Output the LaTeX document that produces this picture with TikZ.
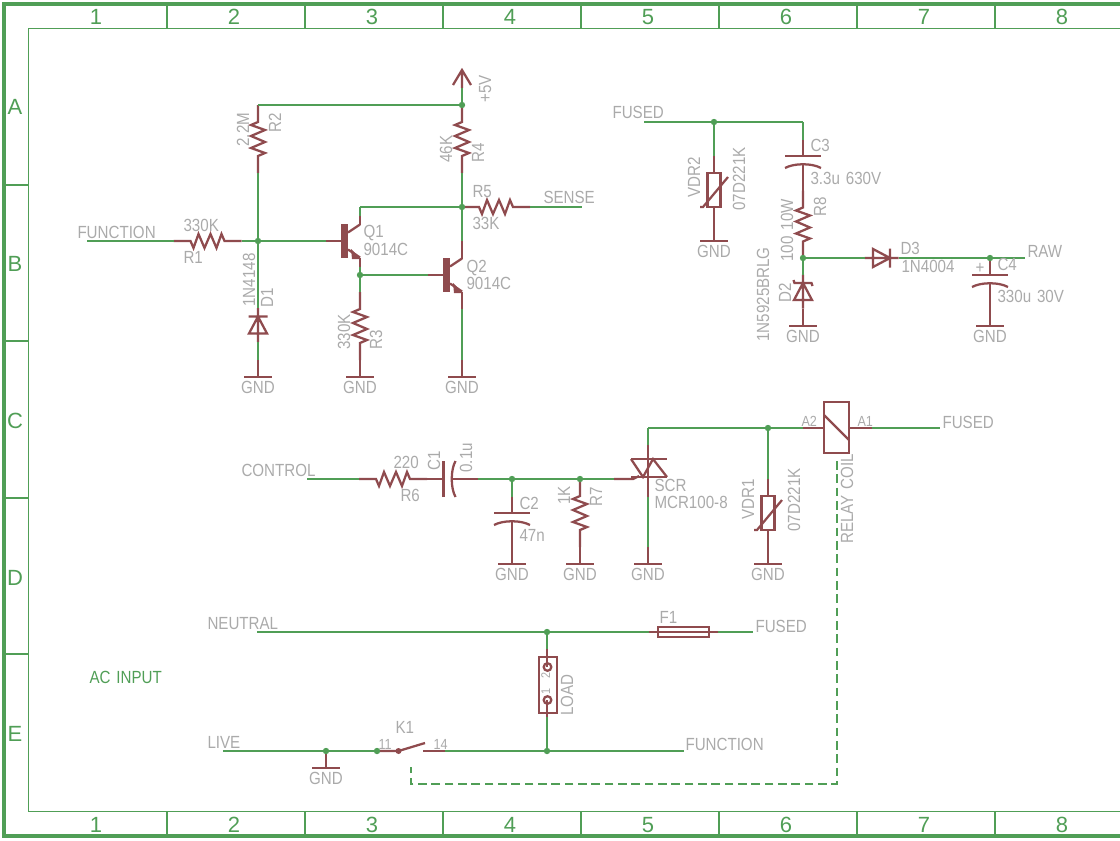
\documentclass[tikz,border=0pt]{standalone}
\usepackage{fontspec}
\setmainfont[FakeStretch=0.86,WordSpace=1.4]{Liberation Sans}
\newfontfamily\sheetfont{Liberation Sans}
\definecolor{netgreen}{RGB}{80,158,86}
\definecolor{symbrown}{RGB}{143,75,78}
\definecolor{namegray}{RGB}{170,170,170}
\tikzset{every picture/.style={line width=0.75pt}}
\tikzset{
  wire/.style={draw=netgreen,line width=1.7pt},
  stub/.style={draw=symbrown,line width=1.7pt},
  frameline/.style={draw=netgreen,line width=1.2pt},
  frameedge/.style={draw=netgreen,line width=3pt},
  dashlink/.style={draw=netgreen,line width=1.7pt,dash pattern={on 6.5pt off 3.5pt}},
  junction/.style={fill=netgreen,draw=none},
  lbl/.style={text=namegray,inner sep=0pt,anchor=base west,font=\fontsize{13.2pt}{14pt}\selectfont},
  lblup/.style={lbl,rotate=90},
  pinlbl/.style={lbl,font=\fontsize{11pt}{12pt}\selectfont},
  framelbl/.style={text=netgreen,inner sep=0pt,anchor=base,font=\sheetfont\fontsize{16.5pt}{18pt}\selectfont},
  % pics are not flipped by the picture's yscale: their y runs upward
  pics/gnd/.style={code={
    \draw[stub] (0,17) -- (0,0) (-14,0) -- (14,0);
    \coordinate (-a) at (0,17);
    \node[lbl,anchor=base] (-t) at (0,-16) {GND};
  }},
  pics/resistor/.style={code={
    \draw[stub] (-34,0) -- (-17,0) -- (-14,-7) -- (-9,7) -- (-3,-7) -- (3,7) -- (9,-7) -- (14,7) -- (17,0) -- (34,0);
    \coordinate (-a) at (-34,0); \coordinate (-b) at (34,0);
  }},
  pics/capacitor/.style={code={
    \draw[stub] (0,20) -- (0,3.5) (-18,3.5) -- (18,3.5);
    \draw[stub] (-18,-8.5) .. controls (-9,-3.5) and (9,-3.5) .. (18,-8.5);
    \draw[stub] (0,-4) -- (0,-20);
    \coordinate (-a) at (0,20); \coordinate (-b) at (0,-20);
  }},
  pics/diode/.style={code={
    \draw[stub] (-17,0) -- (17,0) (-8.5,-9) -- (8.5,0) -- (-8.5,9) -- cycle (8.5,-9.5) -- (8.5,9.5);
    \coordinate (-a) at (-17,0); \coordinate (-b) at (17,0);
  }},
  pics/zener/.style={code={
    \draw[stub] (-17,0) -- (17,0) (-8.5,-9) -- (8.5,0) -- (-8.5,9) -- cycle (11.5,9.5) -- (8.5,8.5) -- (8.5,-8.5) -- (5.5,-9.5);
    \coordinate (-a) at (-17,0); \coordinate (-b) at (17,0);
  }},
  pics/varistor/.style={code={
    \draw[stub] (0,17) -- (0,0) (0,-34) -- (0,-51);
    \draw[stub] (-6.5,0) rectangle (6.5,-34);
    \draw[stub] (-14,-34) -- (-11,-34) -- (14,-4);
    \coordinate (-a) at (0,17); \coordinate (-b) at (0,-51);
  }},
  pics/npn/.style={code={
    \fill[symbrown] (-3.5,-17) rectangle (3.5,17);
    \draw[stub] (3.5,8.5) -- (15.5,16.5) (3.5,-8.5) -- (15.5,-16.5);
    \fill[symbrown] (6.5,-8) -- (15.5,-16.5) -- (15.5,-18) -- (7.5,-18) -- cycle;
    \coordinate (-c) at (15.5,16.5); \coordinate (-e) at (15.5,-16.5);
    \coordinate (-g) at (-3.5,0);
  }}
}
\begin{document}
\begin{tikzpicture}[x=0.75pt,y=0.75pt,yscale=-1,xscale=1]
\useasboundingbox (0,0) rectangle (1120,840);

% Sheet frame
\draw[frameedge] (1120,4) -- (4,4) -- (4,836) -- (1120,836);
\draw[frameline] (1120,28.5) -- (28.5,28.5) -- (28.5,811.5) -- (1120,811.5);
\foreach \x in {167,305,443,581,719,857,995} {
  \draw[frameline] (\x,4) -- (\x,28.5);
  \draw[frameline] (\x,811.5) -- (\x,836);
}
\foreach \y in {185,341,498,654} \draw[frameline] (4,\y) -- (28.5,\y);
\foreach \n/\x in {1/96,2/234,3/372,4/510,5/648,6/786,7/924,8/1062} {
  \node[framelbl] (top\n) at (\x,24) {\n};
  \node[framelbl] (bot\n) at (\x,832) {\n};
}
\foreach \n/\y in {A/114,B/271,C/428,D/585,E/741} \node[framelbl] (row\n) at (15,\y) {\n};

% Junctions
\coordinate (jvcc) at (462,105);
\coordinate (jbase) at (258,241);
\coordinate (jcoll) at (462,207);
\coordinate (jemit) at (360,275);
\coordinate (jfused) at (714,122);
\coordinate (jdrop) at (803,258);
\coordinate (jraw) at (990,258);
\coordinate (jc2) at (512,479);
\coordinate (jr7) at (580,479);
\coordinate (jcoil) at (768,428);
\coordinate (jneutral) at (547,632);
\coordinate (jload) at (547,751);
\coordinate (jlive) at (326,751);
\coordinate (jk1) at (377,751);

% Free ends and corners
\coordinate (endfunc) at (87,241);
\coordinate (endsense) at (582,207);
\coordinate (cornerr2) at (258,105);
\coordinate (cornerq1) at (360,207);
\coordinate (endfusedA) at (644,122);
\coordinate (cornerc3) at (803,122);
\coordinate (endraw) at (1025,258);
\coordinate (endctrl) at (307,479);
\coordinate (cornerscr) at (648,428);
\coordinate (endfusedB) at (940,428);
\coordinate (endneutral) at (257,632);
\coordinate (endfusedC) at (753,632);
\coordinate (endlive) at (223,751);
\coordinate (endfunc2) at (684,751);
\coordinate (dashtop) at (837,461);
\coordinate (dashright) at (837,784);
\coordinate (dashleft) at (411,784);
\coordinate (dashend) at (411,767);

%Resistors
\path (207.5,241) pic (r1) {resistor};
\path (258,139) pic[rotate=-90] (r2) {resistor};
\path (360,326) pic[rotate=-90] (r3) {resistor};
\path (462,139) pic[rotate=-90] (r4) {resistor};
\path (496,207) pic (r5) {resistor};
\path (393,479) pic (r6) {resistor};
\path (580,513) pic[rotate=-90] (r7) {resistor};
\path (803,224.5) pic[rotate=-90] (r8) {resistor};

%Diodes
\path (258,325) pic[rotate=90] (d1) {diode};
\path (803,291.5) pic[rotate=90] (d2) {zener};
\path (881.5,258) pic (d3) {diode};

%Capacitors
\path (803,159.5) pic (c3) {capacitor};
\path (512,516.5) pic (c2) {capacitor};
\path (990,278.5) pic (c4) {capacitor};
\path (447,479) pic[rotate=90] (c1) {capacitor};

%Varistors
\path (714,173) pic (vdr2) {varistor};
\path (768,496) pic (vdr1) {varistor};

%Transistors
\path (344.5,241) pic (q1) {npn};
\path (446.5,275) pic (q2) {npn};

%Ground symbols
\path (258,377) pic (g1) {gnd};
\path (360,377) pic (g2) {gnd};
\path (462,377) pic (g3) {gnd};
\path (714,241) pic (g4) {gnd};
\path (803,326) pic (g5) {gnd};
\path (990,326) pic (g6) {gnd};
\path (512,564) pic (g7) {gnd};
\path (580,564) pic (g8) {gnd};
\path (648,564) pic (g9) {gnd};
\path (768,564) pic (g10) {gnd};
\path (326,768) pic (g11) {gnd};

%Supply arrow
\coordinate (vccpin) at (462,88);
\draw[stub] (vccpin) -- (462,70) (453,85) -- (462,70) -- (471,85);

%SCR
\coordinate (scrtop) at (648,445);
\coordinate (scrbot) at (648,497);
\coordinate (scrgate) at (614,479);
\draw[stub] (scrtop) -- (scrbot);
\draw[stub] (631,459) -- (667,459) (631,477) -- (667,477);
\draw[stub] (631,459) -- (643,477) -- (653,459) -- (667,477);
\draw[stub] (scrgate) -- (633,479) -- (639,476);

%Relay coil
\coordinate (coila) at (803,428);
\coordinate (coilb) at (872,428);
\draw[stub] (824,402) rectangle (849,453);
\draw[stub] (824,415) -- (849,440);
\draw[stub] (coila) -- (824,428) (849,428) -- (coilb);

%Fuse
\coordinate (fusea) at (649,632);
\coordinate (fuseb) at (718,632);
\draw[stub] (fusea) -- (fuseb);
\draw[stub] (658,627) rectangle (709,637);

%Load terminal
\coordinate (loada) at (547,649);
\coordinate (loadb) at (547,717);
\draw[stub] (539,657) rectangle (557,713);
\draw[stub] (loada) -- (547,667) (547,700) -- (loadb);
\draw[stub] (547.5,667) circle (3.8);
\draw[stub] (547.5,700) circle (3.8);

%Relay contact
\coordinate (k1a) at (398.5,751);
\coordinate (k1b) at (423,751);
\coordinate (k1c) at (445,751);
\draw[stub] (jk1) -- (k1a) -- (425,743);
\draw[stub] (k1b) -- (k1c);
\fill[symbrown] (k1a) circle (3);

%Nets
\draw[wire] (endfunc) -- (r1-a);
\draw[wire] (r1-b) -- (jbase);
\draw[wire] (jbase) -- (326,241);
\draw[stub] (326,241) -- (q1-g);
\draw[wire] (cornerr2) -- (jvcc);
\draw[stub] (cornerr2) -- (r2-a);
\draw[wire] (r2-b) -- (jbase);
\draw[wire] (jbase) -- (d1-b);
\draw[wire] (d1-a) -- (g1-a);
\draw[wire] (vccpin) -- (jvcc);
\draw[stub] (jvcc) -- (r4-a);
\draw[wire] (r4-b) -- (jcoll);
\draw[wire] (cornerq1) -- (jcoll);
\draw[stub] (q1-c) -- (360,216);
\draw[wire] (360,216) -- (cornerq1);
\draw[stub] (q1-e) -- (360,267);
\draw[wire] (360,267) -- (jemit);
\draw[wire] (jemit) -- (428,275);
\draw[stub] (428,275) -- (q2-g);
\draw[wire] (jemit) -- (r3-a);
\draw[stub] (r3-b) -- (g2-a);
\draw[wire] (jcoll) -- (462,241);
\draw[stub] (462,241) -- (q2-c);
\draw[stub] (q2-e) -- (462,309);
\draw[wire] (462,309) -- (g3-a);
\draw[stub] (jcoll) -- (r5-a);
\draw[wire] (r5-b) -- (endsense);
\draw[wire] (endfusedA) -- (cornerc3);
\draw[wire] (cornerc3) -- (c3-a);
\draw[wire] (jfused) -- (vdr2-a);
\draw[stub] (vdr2-b) -- (g4-a);
\draw[stub] (c3-b) -- (r8-a);
\draw[stub] (r8-b) -- (jdrop);
\draw[wire] (jdrop) -- (d2-b);
\draw[stub] (d2-a) -- (g5-a);
\draw[wire] (jdrop) -- (d3-a);
\draw[wire] (d3-b) -- (endraw);
\draw[wire] (jraw) -- (c4-a);
\draw[stub] (c4-b) -- (g6-a);
\draw[wire] (endctrl) -- (r6-a);
\draw[stub] (r6-b) -- (c1-a);
\draw[stub] (c1-b) -- (478,479);
\draw[wire] (478,479) -- (scrgate);
\draw[wire] (jc2) -- (c2-a);
\draw[stub] (c2-b) -- (g7-a);
\draw[stub] (jr7) -- (r7-a);
\draw[stub] (r7-b) -- (g8-a);
\draw[wire] (cornerscr) -- (coila);
\draw[wire] (cornerscr) -- (scrtop);
\draw[wire] (scrbot) -- (g9-a);
\draw[wire] (jcoil) -- (vdr1-a);
\draw[stub] (vdr1-b) -- (g10-a);
\draw[wire] (coilb) -- (endfusedB);
\draw[wire] (endneutral) -- (fusea);
\draw[wire] (fuseb) -- (endfusedC);
\draw[wire] (jneutral) -- (loada);
\draw[wire] (loadb) -- (jload);
\draw[wire] (endlive) -- (jk1);
\draw[wire] (k1c) -- (endfunc2);
\draw[dashlink] (dashtop) -- (dashright) -- (dashleft) -- (dashend);

%Junction dots
\foreach \j in {jvcc,jbase,jcoll,jemit,jfused,jdrop,jraw,jc2,jr7,jcoil,jneutral,jload,jlive,jk1}
  \fill[junction] (\j) circle (3.2);

% Text Node
\node[lbl] (tfunc) at (77,238) {FUNCTION};
\node[lbl] (tr1v) at (183,231) {330K};
\node[lbl] (tr1) at (183,263) {R1};
\node[lblup] (tr2v) at (249,147) {2.2M};
\node[lblup] (tr2) at (281,133) {R2};
\node[lblup] (td1v) at (255,307) {1N4148};
\node[lblup] (td1) at (273,308) {D1};
\node[lblup] (tvcc) at (491,103) {+5V};
\node[lblup] (tr4v) at (452,163) {46K};
\node[lblup] (tr4) at (484,163) {R4};
\node[lbl] (tq1) at (363,237) {Q1};
\node[lbl] (tq1v) at (363,255) {9014C};
\node[lbl] (tr5) at (472,197) {R5};
\node[lbl] (tr5v) at (472,229) {33K};
\node[lbl] (tsense) at (543,203) {SENSE};
\node[lbl] (tq2) at (466,272) {Q2};
\node[lbl] (tq2v) at (466,289) {9014C};
\node[lblup] (tr3v) at (350,350) {330K};
\node[lblup] (tr3) at (382,350) {R3};
\node[lbl] (tfusedA) at (612,118) {FUSED};
\node[lbl] (tc3) at (810,151) {C3};
\node[lbl] (tc3v) at (810,184) {3.3u 630V};
\node[lblup] (tr8) at (826,217) {R8};
\node[lblup] (tr8v) at (793,262) {100 10W};
\node[lblup] (td2v) at (769,342) {1N5925BRLG};
\node[lblup] (td2) at (791,303) {D2};
\node[lblup] (tvdr2) at (700,198) {VDR2};
\node[lblup] (tvdr2v) at (745,211) {07D221K};
\node[lbl] (td3) at (900,254) {D3};
\node[lbl] (td3v) at (901,272) {1N4004};
\node[lbl] (tc4) at (997,270) {C4};
\node[lbl] (tc4p) at (975,273) {+};
\node[lbl] (traw) at (1027,257) {RAW};
\node[lbl] (tc4v) at (997,302) {330u 30V};
\node[lbl] (tctrl) at (241,476) {CONTROL};
\node[lbl] (tr6v) at (393,468) {220};
\node[lbl] (tr6) at (400,501) {R6};
\node[lblup] (tc1) at (440,471) {C1};
\node[lblup] (tc1v) at (472,473) {0.1u};
\node[lbl] (tc2) at (519,509) {C2};
\node[lbl] (tc2v) at (519,541) {47n};
\node[lblup] (tr7v) at (570,505) {1K};
\node[lblup] (tr7) at (602,507) {R7};
\node[lbl] (tscr) at (654,491) {SCR};
\node[lbl] (tscrv) at (654,508) {MCR100-8};
\node[lblup] (tvdr1) at (754,520) {VDR1};
\node[lblup] (tvdr1v) at (800,532) {07D221K};
\node[pinlbl] (tpa2) at (801,426) {A2};
\node[pinlbl] (tpa1) at (857,426) {A1};
\node[lbl] (tfusedB) at (942,428) {FUSED};
\node[lblup] (tcoil) at (853,544) {RELAY COIL};
\node[lbl] (tneutral) at (207,629) {NEUTRAL};
\node[lbl] (tf1) at (659,623) {F1};
\node[lbl] (tfusedC) at (755,632) {FUSED};
\node[lblup,font=\fontsize{9.5pt}{10pt}\selectfont] (tl1) at (550,695) {1};
\node[lblup,font=\fontsize{9.5pt}{10pt}\selectfont] (tl2) at (550,679) {2};
\node[lblup] (tload) at (573,716) {LOAD};
\node[lbl,text=netgreen] (tac) at (89,683) {AC INPUT};
\node[lbl] (tlive) at (207,748) {LIVE};
\node[lbl] (tk1) at (395,733) {K1};
\node[pinlbl] (tp11) at (378,749) {11};
\node[pinlbl] (tp14) at (433,749) {14};
\node[lbl] (tfunc2) at (685,750) {FUNCTION};

\end{tikzpicture}
\end{document}
